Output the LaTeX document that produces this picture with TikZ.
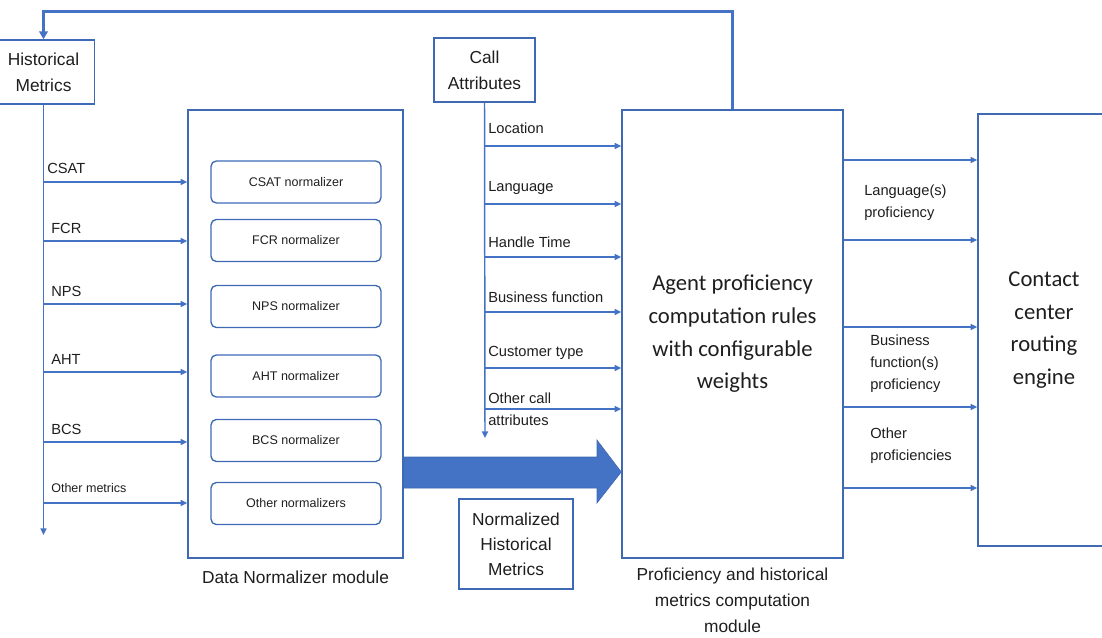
\documentclass[tikz,border=0pt]{standalone}
\usepackage{fontspec}
\setmainfont{Liberation Sans}
\newfontfamily\calibrifont{Carlito}
\usetikzlibrary{arrows.meta,positioning}
\definecolor{lineblue}{HTML}{4472C4}
\definecolor{edgeblue}{HTML}{3F68B5}
\definecolor{txtgray}{HTML}{1E1E1E}
\tikzset{every node/.style={text=txtgray},
  line/.style={draw=lineblue, line width=1.1pt},
  arr/.style={line, -{Triangle[length=5pt,width=4.5pt]}},
  thickarr/.style={draw=lineblue, line width=2.2pt, -{Triangle[length=6pt,width=6.5pt]}},
  box/.style={draw=edgeblue, line width=1.1pt, inner sep=0pt,
    font=\fontsize{13}{19.5}\selectfont, align=center},
  normbox/.style={draw=edgeblue, line width=1pt, rounded corners=4pt,
    minimum width=127.5pt, minimum height=31.5pt,
    font=\fontsize{9.4}{11}\selectfont},
  lbl/.style={font=\fontsize{11}{16.5}\selectfont, inner sep=0pt, align=left},
  smalllbl/.style={font=\fontsize{9.4}{11}\selectfont, inner sep=0pt},
  modlbl/.style={font=\fontsize{13}{19.5}\selectfont, align=center, inner sep=0pt},
  bigtxt/.style={font=\calibrifont\fontsize{17}{24.5}\selectfont, align=center}}
\begin{document}
\begin{tikzpicture}[x=0.75pt,y=-0.75pt]
\useasboundingbox (0,0) rectangle (1102,638);
\clip (0,0) rectangle (1102,638);
% boxes
\node[box, minimum width=76.5pt, minimum height=48pt] (hm) at (43.5,72)
  {Historical\\Metrics};
\node[box, minimum width=75.75pt, minimum height=48pt] (ca) at (484.5,70)
  {Call\\Attributes};
\node[box, minimum width=161.25pt, minimum height=336pt] (dn) at (295.5,334) {};
\node[box, bigtxt, minimum width=165.75pt, minimum height=336pt] (pc) at (732.5,334)
  {Agent proficiency\\computation rules\\with configurable\\weights};
\node[box, bigtxt, minimum width=99pt, minimum height=324pt] (ccr) at (1044,330)
  {Contact\\center\\routing\\engine};
\node[box, font=\fontsize{13}{18.75}\selectfont, minimum width=85.5pt,
  minimum height=67.5pt] (nhm) at (516,544) {Normalized\\Historical\\Metrics};
% module captions
\node[modlbl, below=9pt of dn] (dnlbl) {Data Normalizer module};
\node[modlbl, below=7pt of pc] (pclbl)
  {Proficiency and historical\\metrics computation\\module};
% normalizers
\foreach \txt/\y [count=\i] in {CSAT normalizer/182, FCR normalizer/240.5,
    NPS normalizer/306.5, AHT normalizer/376, BCS normalizer/440.5,
    Other normalizers/503.5}
  \node[normbox] (norm\i) at (296,\y) {\txt};
% historical metrics
\coordinate (hmend) at (43.5,535);
\draw[arr] (hm.south) -- (hmend);
\foreach \txt/\y/\x [count=\i] in {CSAT/182/47, FCR/241/51, NPS/304/51,
    AHT/372/51, BCS/442/51}{
  \draw[arr] (hm.south |- 0,\y) -- (dn.west |- 0,\y);
  \node[lbl, anchor=base west] (ml\i) at (\x,\y-8) {\txt};
}
\draw[arr] (hm.south |- 0,503) -- (dn.west |- 0,503);
\node[smalllbl, anchor=base west] (ml6) at (51,492) {Other metrics};
% call attributes
\coordinate (caend) at (485,438);
\draw[arr] (ca.south) -- (caend);
\foreach \txt/\y/\ly [count=\i] in {Location/146/128, Language/204/188,
    Handle Time/257/242, Business function/312/297, Customer type/368/353}{
  \draw[arr] (ca.south |- 0,\y) -- (pc.west |- 0,\y);
  \node[lbl, anchor=west] (cl\i) at (488,\ly) {\txt};
}
\draw[arr] (ca.south |- 0,409) -- (pc.west |- 0,409);
\node[lbl, anchor=west] (cl6) at (488,409) {Other call\\attributes};
% normalized metrics
\fill[lineblue, draw=edgeblue] (dn.east |- 0,457) -- (597,457) -- (597,440)
  -- (pc.west |- 0,472) -- (597,503) -- (597,488) -- (dn.east |- 0,488) -- cycle;
% feedback
\draw[thickarr] (pc.north) -- ++(0,-98) -| (hm.north);
% proficiencies
\foreach \y in {160,240,327,407,488}
  \draw[arr] (pc.east |- 0,\y) -- (ccr.west |- 0,\y);
\node[lbl, anchor=west] (op1) at (864,203) {Language(s)\\proficiency};
\node[lbl, anchor=west] (op2) at (870,364) {Business\\function(s)\\proficiency};
\node[lbl, anchor=west] (op3) at (870,446) {Other\\proficiencies};
\end{tikzpicture}
\end{document}
